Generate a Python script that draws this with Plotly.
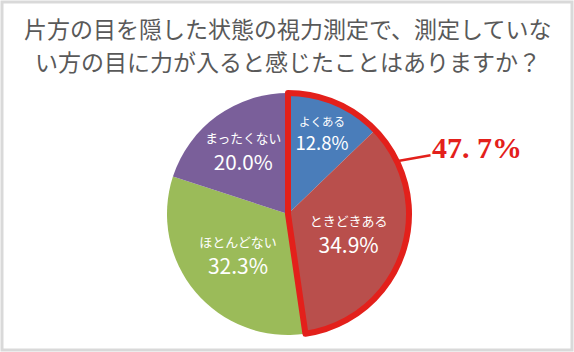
import plotly.graph_objects as go

labels = ["よくある", "ときどきある", "ほとんどない", "まったくない"]
values = [12.8, 34.9, 32.3, 20.0]
colors = ["#4A7DBA", "#B94F4C", "#9BBB59", "#7A5F9A"]
highlight_label = "47. 7%"
title_lines = ["片方の目を隠した状態の視力測定で、測定していな",
               "い方の目に力が入ると感じたことはありますか？"]

W, H = 574, 352
cx, cy, r = 288, 214, 121
dom_x = [(cx - r) / W, (cx + r) / W]
dom_y = [(H - cy - r) / H, (H - cy + r) / H]

fig = go.Figure()
fig.add_trace(go.Pie(
    labels=labels, values=values, sort=False, direction="clockwise", rotation=0,
    marker=dict(colors=colors, line=dict(width=0)),
    texttemplate="<span style='font-size:13px'>%{label}</span><br>%{value:.1f}%",
    textposition="inside", insidetextorientation="horizontal",
    textfont=dict(color="white", size=21, family="Noto Sans CJK JP"),
    domain=dict(x=dom_x, y=dom_y), showlegend=False, hoverinfo="skip",
))
hi = sum(values[:2])
lo = sum(values[2:])
fig.add_trace(go.Pie(
    labels=["hi", "lo"], values=[hi, lo], sort=False, direction="clockwise", rotation=0,
    marker=dict(colors=["rgba(0,0,0,0)", "rgba(0,0,0,0)"],
                line=dict(color=["#E3201B", "rgba(0,0,0,0)"], width=[6, 0])),
    textinfo="none", domain=dict(x=dom_x, y=dom_y), showlegend=False, hoverinfo="skip",
))

fig.add_annotation(
    x=398 / W, y=(H - 161) / H, xref="paper", yref="paper",
    ax=79, ay=-14, axref="pixel", ayref="pixel",
    text="<b>" + highlight_label + "</b>", showarrow=True, arrowhead=0,
    arrowwidth=2.5, arrowcolor="#E3201B",
    font=dict(family="Liberation Serif", size=30, color="#E3201B"),
)
for i, line in enumerate(title_lines):
    fig.add_annotation(
        x=0.5 if i == 0 else 0.502, y=(H - (27.5 + 33.5 * i)) / H, xref="paper", yref="paper",
        showarrow=False, text=line, yanchor="middle", borderpad=0,
        font=dict(family="Noto Sans CJK JP", size=23, color="#595959"),
    )
fig.add_shape(type="rect", xref="paper", yref="paper", x0=2 / W, y0=2 / H,
              x1=1 - 2 / W, y1=1 - 2 / H, line=dict(color="#D9D9D9", width=3))

fig.update_layout(width=W, height=H, margin=dict(l=0, r=0, t=0, b=0),
                  paper_bgcolor="white", plot_bgcolor="white")
fig.write_html("out.html")
